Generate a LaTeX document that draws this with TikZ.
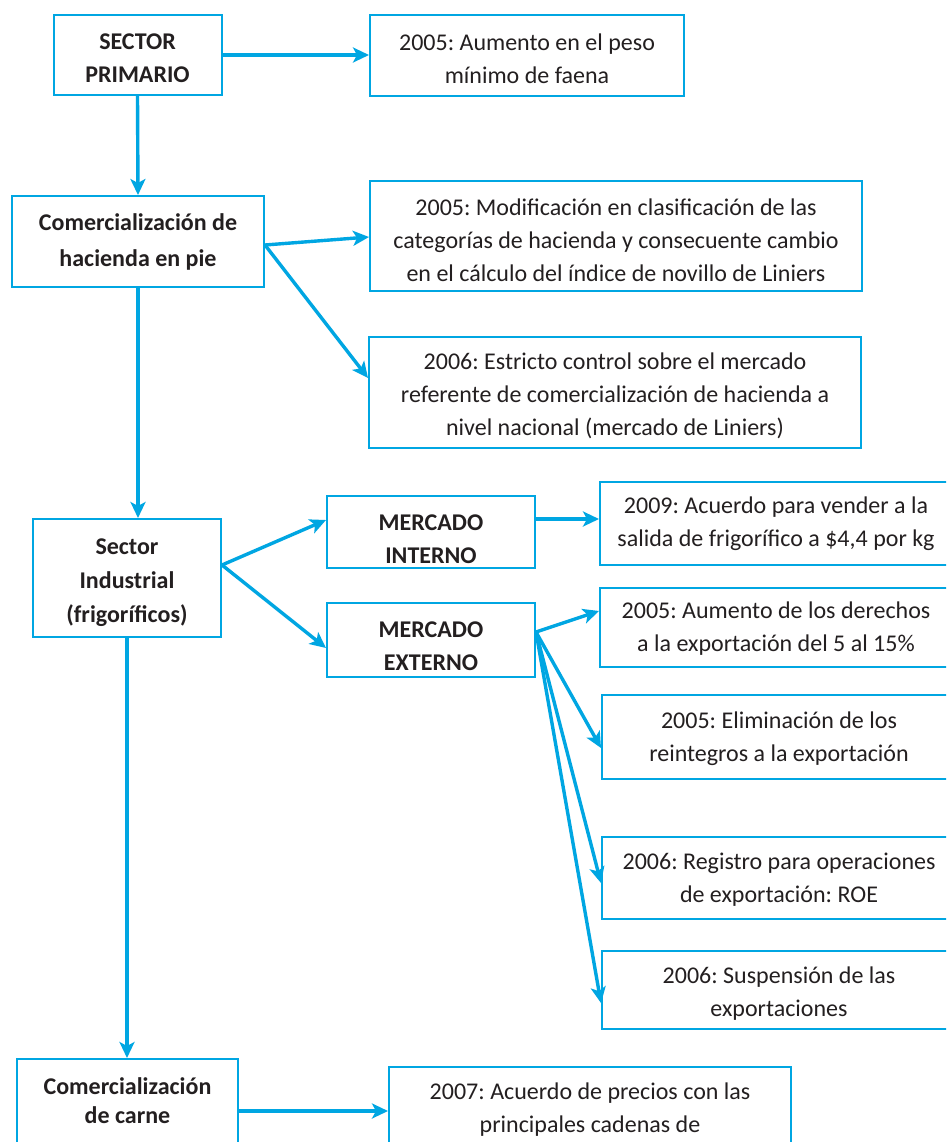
\documentclass[tikz,border=0pt]{standalone}
\usepackage{fontspec}
\setmainfont{Carlito}
\usetikzlibrary{arrows.meta}
\definecolor{cy}{RGB}{0,166,226}
\definecolor{tx}{RGB}{35,31,32}
\frenchspacing
% name, text style, centre, width, height, downward shift of text, text
\newcommand\tbox[7]{%
  \node[frame,minimum width=#4,minimum height=#5] (#1) at (#3) {};
  \node[#2,yshift=-#6] (#1t) at (#1.center) {#7};}
\begin{document}
\begin{tikzpicture}[x=1pt,y=-1pt,
 frame/.style={draw=cy,line width=2pt,inner sep=0pt},
 nt/.style={inner sep=0pt,align=center,text=tx,font=\fontsize{24}{33}\selectfont},
 bt/.style={nt,font=\fontsize{24}{33}\selectfont\bfseries},
 arr/.style={draw=cy,line width=3.4pt,-{Stealth[length=16pt,width=15pt,inset=4pt]}},
]
\useasboundingbox (0,0) rectangle (946,1142);
\clip (0,0) rectangle (946,1142);
\fill[white] (0,0) rectangle (946,1142);

\tbox{sp}{bt}{137.5,55}{168pt}{80pt}{3pt}{SECTOR\\PRIMARIO}
\tbox{a1}{nt}{527,55.5}{314pt}{81pt}{3.5pt}{2005: Aumento en el peso\\mínimo de faena}
\tbox{ch}{bt,font=\fontsize{24}{36}\selectfont\bfseries}{138,241.5}{252pt}{91pt}{0pt}{Comercialización de\\hacienda en pie}
\tbox{a2}{nt}{616,236}{492pt}{110pt}{4pt}{2005: Modificación en clasificación de las\\categorías de hacienda y consecuente cambio\\en el cálculo del índice de novillo de Liniers}
\tbox{a3}{nt}{615,392.5}{492pt}{111pt}{3pt}{2006: Estricto control sobre el mercado\\referente de comercialización de hacienda a\\nivel nacional (mercado de Liniers)}
\tbox{si}{bt,font=\fontsize{24}{34}\selectfont\bfseries}{127,578}{188pt}{118pt}{4.5pt}{Sector\\Industrial\\(frigoríficos)}
\tbox{mi}{bt}{431,532}{208pt}{72pt}{7pt}{MERCADO\\INTERNO}
\tbox{me}{bt}{431,640}{208pt}{74pt}{6pt}{MERCADO\\EXTERNO}
\tbox{b1}{nt}{776,523.5}{352pt}{83pt}{0.5pt}{2009: Acuerdo para vender a la\\salida de frigorífico a \$4,4 por kg}
\tbox{b2}{nt}{776,627.5}{352pt}{79pt}{1.5pt}{2005: Aumento de los derechos\\a la exportación del 5 al 15\%}
\tbox{b3}{nt}{779,737}{354pt}{84pt}{2pt}{2005: Eliminación de los\\reintegros a la exportación}
\tbox{b4}{nt}{779,878}{354pt}{82pt}{2pt}{2006: Registro para operaciones\\de exportación: ROE}
\tbox{b5}{nt}{779,990}{354pt}{78pt}{3.5pt}{2006: Suspensión de las\\exportaciones}
\tbox{cc}{bt,font=\fontsize{24}{29}\selectfont\bfseries}{127.5,1101.5}{221pt}{85pt}{-1pt}{Comercialización\\de carne}
\tbox{c1}{nt}{590,1109.5}{402pt}{85pt}{0pt}{2007: Acuerdo de precios con las\\principales cadenas de}

\coordinate (chf) at (ch.east |- 0,245);
\coordinate (sif) at (si.east |- 0,565);
\coordinate (mef) at (me.east |- 0,632);

\draw[arr] (sp.east) -- (a1.west |- sp.east);
\draw[arr] (sp.south) -- (ch.north);
\draw[arr] (chf) -- (a2.west |- 0,237);
\draw[arr] (chf) -- (a3.west |- 0,378);
\draw[arr] (ch.south) -- (ch.south |- si.north);
\draw[arr] (sif) -- (mi.west |- 0,520);
\draw[arr] (sif) -- (me.west |- 0,648);
\draw[arr] (mi.east |- 0,519) -- (b1.west |- 0,519);
\draw[arr] (mef) -- (b2.west |- 0,611);
\draw[arr] (mef) -- (b3.west |- 0,748);
\draw[arr] (mef) -- (b4.west |- 0,883);
\draw[arr] (mef) -- (b5.west |- 0,1003);
\draw[arr] (si.south) -- (si.south |- cc.north);
\draw[arr] (cc.east |- 0,1111) -- (c1.west |- 0,1111);
\end{tikzpicture}
\end{document}
